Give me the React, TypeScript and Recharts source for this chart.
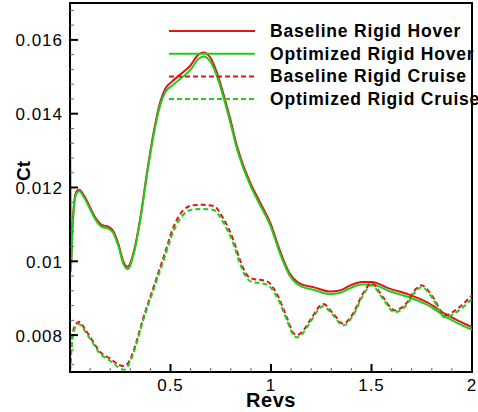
import React from 'react';
import { LineChart, Line, XAxis, YAxis, ReferenceArea, Legend } from 'recharts';

// Revs vs Ct
const baselineHover = [
  [0, 0.0139], [0.004, 0.0098], [0.012, 0.0109], [0.022, 0.01165], [0.034, 0.0119],
  [0.046, 0.01194], [0.07, 0.01178], [0.1, 0.01146], [0.13, 0.01115], [0.16, 0.01098],
  [0.19, 0.01094], [0.215, 0.01082], [0.24, 0.01048], [0.265, 0.01], [0.287, 0.00985],
  [0.317, 0.01025], [0.35, 0.01118], [0.383, 0.0124], [0.416, 0.01349], [0.449, 0.01432],
  [0.474, 0.01468], [0.507, 0.01487], [0.548, 0.01506], [0.598, 0.0153], [0.639, 0.0156],
  [0.664, 0.01566], [0.697, 0.01553], [0.73, 0.01513], [0.763, 0.01454], [0.797, 0.01386],
  [0.83, 0.01314], [0.863, 0.01259], [0.896, 0.01214], [0.945, 0.0116], [0.995, 0.01106],
  [1.045, 0.01028], [1.094, 0.00966], [1.128, 0.00945], [1.16, 0.00936], [1.21, 0.0093],
  [1.293, 0.00918], [1.342, 0.00921], [1.392, 0.00934], [1.45, 0.00944], [1.5, 0.00944],
  [1.59, 0.00926], [1.69, 0.00909], [1.773, 0.0089], [1.872, 0.00856], [1.938, 0.00837],
  [2.0, 0.00822],
];

const optimizedHover = [
  [0, 0.0139], [0.004, 0.0097], [0.012, 0.0108], [0.022, 0.0116], [0.034, 0.01185],
  [0.046, 0.0119], [0.07, 0.01173], [0.1, 0.01141], [0.13, 0.0111], [0.16, 0.01093],
  [0.19, 0.01089], [0.215, 0.01077], [0.24, 0.01042], [0.265, 0.00994], [0.287, 0.00979],
  [0.317, 0.0102], [0.35, 0.01113], [0.383, 0.01234], [0.416, 0.01342], [0.449, 0.01424],
  [0.474, 0.01458], [0.507, 0.01476], [0.548, 0.01494], [0.598, 0.01518], [0.639, 0.01548],
  [0.664, 0.01555], [0.697, 0.01542], [0.73, 0.01503], [0.763, 0.01445], [0.797, 0.01377],
  [0.83, 0.01306], [0.863, 0.01252], [0.896, 0.01207], [0.945, 0.01153], [0.995, 0.01099],
  [1.045, 0.01021], [1.094, 0.0096], [1.128, 0.00939], [1.16, 0.0093], [1.21, 0.00923],
  [1.293, 0.00911], [1.342, 0.00914], [1.392, 0.00927], [1.45, 0.00937], [1.5, 0.00937],
  [1.59, 0.00919], [1.69, 0.00902], [1.773, 0.00883], [1.872, 0.00849], [1.938, 0.0083],
  [2.0, 0.00815],
];

const baselineCruise = [
  [0, 0.00702], [0.006, 0.0076], [0.015, 0.0081], [0.03, 0.0083], [0.046, 0.00836],
  [0.07, 0.0082], [0.1, 0.00795], [0.151, 0.00754], [0.201, 0.00736], [0.24, 0.0072],
  [0.267, 0.00716], [0.29, 0.00725], [0.317, 0.00759], [0.366, 0.00849], [0.416, 0.00931],
  [0.466, 0.01012], [0.515, 0.01093], [0.565, 0.01139], [0.614, 0.01152], [0.664, 0.01153],
  [0.714, 0.0115], [0.763, 0.01116], [0.813, 0.01057], [0.846, 0.01003], [0.879, 0.00964],
  [0.912, 0.00952], [0.945, 0.0095], [0.979, 0.00946], [1.028, 0.00913], [1.078, 0.00849],
  [1.111, 0.00806], [1.128, 0.008], [1.16, 0.00812], [1.194, 0.0084], [1.26, 0.00884],
  [1.31, 0.00858], [1.359, 0.00831], [1.408, 0.00858], [1.458, 0.00913], [1.5, 0.0094],
  [1.557, 0.00903], [1.615, 0.00867], [1.673, 0.00886], [1.723, 0.00926], [1.748, 0.00935],
  [1.806, 0.00903], [1.864, 0.00854], [1.938, 0.00876], [2.0, 0.00908],
];

const optimizedCruise = [
  [0, 0.00702], [0.006, 0.0075], [0.015, 0.008], [0.03, 0.00824], [0.046, 0.0083],
  [0.07, 0.00814], [0.1, 0.0079], [0.151, 0.00749], [0.201, 0.0073], [0.24, 0.00713],
  [0.267, 0.00706], [0.29, 0.00718], [0.317, 0.00753], [0.366, 0.00843], [0.416, 0.00924],
  [0.466, 0.01003], [0.515, 0.01082], [0.565, 0.01127], [0.614, 0.01141], [0.664, 0.01142],
  [0.714, 0.01139], [0.763, 0.01105], [0.813, 0.01047], [0.846, 0.00993], [0.879, 0.00955],
  [0.912, 0.00943], [0.945, 0.00941], [0.979, 0.00937], [1.028, 0.00905], [1.078, 0.00842],
  [1.111, 0.008], [1.128, 0.00794], [1.16, 0.00806], [1.194, 0.00834], [1.26, 0.00878],
  [1.31, 0.00853], [1.359, 0.00826], [1.408, 0.00853], [1.458, 0.00908], [1.5, 0.00935],
  [1.557, 0.00898], [1.615, 0.00862], [1.673, 0.00881], [1.723, 0.00921], [1.748, 0.0093],
  [1.806, 0.00898], [1.864, 0.00848], [1.938, 0.00868], [2.0, 0.00898],
];

const xTicks = [0.1, 0.2, 0.3, 0.4, 0.5, 0.6, 0.7, 0.8, 0.9, 1, 1.1, 1.2, 1.3, 1.4, 1.5, 1.6, 1.7, 1.8, 1.9, 2];
const xMajor = [0.5, 1, 1.5, 2];
const xLabels = ['0.5', '1', '1.5', '2'];

const yTicks = [
  0.0072, 0.0076, 0.008, 0.0084, 0.0088, 0.0092, 0.0096, 0.01, 0.0104, 0.0108, 0.0112, 0.0116,
  0.012, 0.0124, 0.0128, 0.0132, 0.0136, 0.014, 0.0144, 0.0148, 0.0152, 0.0156, 0.016, 0.0164, 0.0168,
];
const yMajor = [0.008, 0.01, 0.012, 0.014, 0.016];
const yLabels = ['0.008', '0.01', '0.012', '0.014', '0.016'];

const RED = '#e01515';
const GREEN = '#1fcc1f';
const FONT = '"Liberation Sans", Arial, Helvetica, sans-serif';

const toPoints = (rows: number[][]) => rows.map(([x, y]) => ({ x, y }));

const series = [
  { name: 'Baseline Rigid Hover', data: toPoints(baselineHover), color: RED, dash: undefined },
  { name: 'Optimized Rigid Hover', data: toPoints(optimizedHover), color: GREEN, dash: undefined },
  { name: 'Baseline Rigid Cruise', data: toPoints(baselineCruise), color: RED, dash: '5 3' },
  { name: 'Optimized Rigid Cruise', data: toPoints(optimizedCruise), color: GREEN, dash: '5 3' },
];

const majorIndex = (list: number[], v: number) => list.findIndex((m) => Math.abs(m - v) < 1e-9);

// ticks point inward, minor ones shorter and lighter
function XTick({ x, y, payload }: any) {
  const i = majorIndex(xMajor, payload.value);
  const major = i >= 0;
  return (
    <g>
      <line x1={x} x2={x} y1={y} y2={y - (major ? 8 : 4)} stroke={major ? '#000' : '#666'} strokeWidth={major ? 2 : 1} />
      {major && (
        <text x={x} y={y + 18.5} textAnchor="middle" fontFamily={FONT} fontSize={17} letterSpacing={1} fill="#000">
          {xLabels[i]}
        </text>
      )}
    </g>
  );
}

function YTick({ x, y, payload }: any) {
  const i = majorIndex(yMajor, payload.value);
  const major = i >= 0;
  return (
    <g>
      <line x1={x} x2={x + (major ? 8 : 4)} y1={y} y2={y} stroke={major ? '#000' : '#666'} strokeWidth={major ? 2 : 1} />
      {major && (
        <text x={x - 7} y={y + 6.5} textAnchor="end" fontFamily={FONT} fontSize={17} letterSpacing={1} fill="#000">
          {yLabels[i]}
        </text>
      )}
    </g>
  );
}

function LegendBox() {
  return (
    <svg width={478} height={115}>
      {series.map((s, i) => {
        const ly = 31 + i * 22.7;
        return (
          <g key={s.name}>
            <line x1={169} x2={255} y1={ly} y2={ly} stroke={s.color} strokeWidth={2} strokeDasharray={s.dash} />
            <text x={270} y={ly + 6} fontFamily={FONT} fontSize={17.5} fontWeight="bold" letterSpacing={0.8} fill="#000">
              {s.name}
            </text>
          </g>
        );
      })}
    </svg>
  );
}

export default function App() {
  return (
    <div style={{ position: 'absolute', left: 0, top: 0, width: 478, height: 412, background: '#fff' }}>
      <LineChart width={478} height={412} margin={{ top: 3, right: 6, bottom: 10, left: 0 }}>
        <XAxis
          dataKey="x"
          type="number"
          domain={[0, 2]}
          ticks={xTicks}
          interval={0}
          allowDataOverflow
          tickSize={0}
          tickMargin={0}
          tickLine={false}
          axisLine={{ stroke: '#000', strokeWidth: 2 }}
          tick={<XTick />}
          height={30}
          label={() => (
            <text x={271} y={407} textAnchor="middle" fontFamily={FONT} fontSize={20} fontWeight="bold" letterSpacing={0.5} fill="#000">
              Revs
            </text>
          )}
        />
        <YAxis
          dataKey="y"
          type="number"
          domain={[0.007, 0.017]}
          ticks={yTicks}
          interval={0}
          allowDataOverflow
          tickSize={0}
          tickMargin={0}
          tickLine={false}
          axisLine={{ stroke: '#000', strokeWidth: 2 }}
          tick={<YTick />}
          width={70}
          label={() => (
            <text x={30} y={171} transform="rotate(-90 30 171)" textAnchor="middle" fontFamily={FONT} fontSize={19} fontWeight="bold" fill="#000">
              Ct
            </text>
          )}
        />
        <ReferenceArea x1={0} x2={2} y1={0.007} y2={0.017} fill="none" stroke="#000" strokeWidth={2} ifOverflow="visible" />
        <Legend
          layout="vertical"
          align="center"
          verticalAlign="middle"
          content={() => <LegendBox />}
          wrapperStyle={{ position: 'absolute', left: 0, top: 0, width: 478, height: 115 }}
        />
        {series.map((s) => (
          <Line
            key={s.name}
            name={s.name}
            data={s.data}
            dataKey="y"
            type="monotone"
            stroke={s.color}
            strokeWidth={2}
            strokeDasharray={s.dash}
            dot={false}
            activeDot={false}
            isAnimationActive={false}
          />
        ))}
      </LineChart>
    </div>
  );
}
